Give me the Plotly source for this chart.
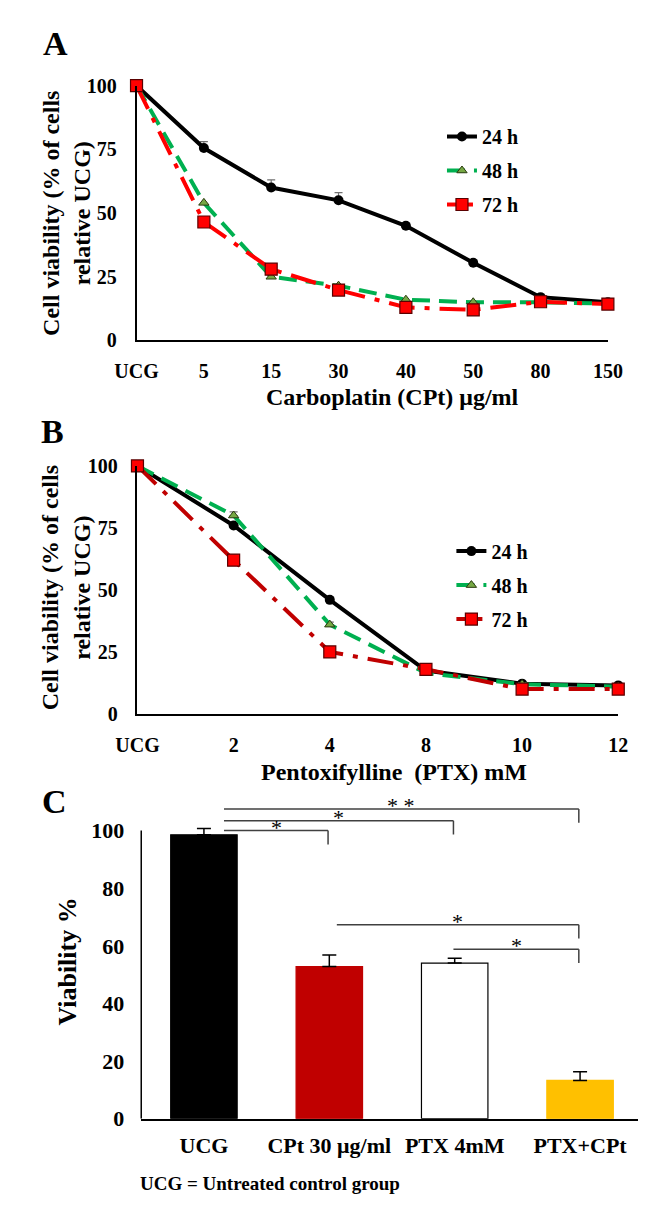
import plotly.graph_objects as go

# ---------------- data ----------------
a_categories = ["UCG", "5", "15", "30", "40", "50", "80", "150"]
a_24h = [100, 75.5, 60, 55, 45, 30.5, 17, 15]
a_24h_err = [0, 2.5, 3, 3, 1, 1, 1, 1]
a_48h = [100, 54, 25, 21.5, 16, 15, 15, 14.5]
a_72h = [100, 46.5, 28, 19.8, 13, 12, 15.2, 14.3]

b_categories = ["UCG", "2", "4", "8", "10", "12"]
b_24h = [100, 76, 46, 17.5, 12.2, 11.5]
b_24h_err = [0, 1, 1, 0.5, 0.5, 0.5]
b_48h = [100, 80, 36, 16.5, 12, 11]
b_48h_err = [0, 1.5, 1, 0.5, 0.5, 0.5]
b_72h = [100, 62, 25, 18, 10, 10]
b_72h_err = [0, 2, 1, 0.5, 0.5, 0.5]

c_categories = ["UCG", "CPt 30 μg/ml", "PTX 4mM", "PTX+CPt"]
c_values = [98.5, 52.8, 54, 13.3]
c_errors = [2.2, 4, 1.7, 3]
c_comparisons = [(0, 1, "*"), (0, 2, "*"), (0, 3, "* *"), (1, 3, "*"), (2, 3, "*")]

series_names = ["24 h", "48 h", "72 h"]

# ---------------- styling ----------------
W, H = 646, 1208
FONT = "Liberation Serif, Times New Roman, serif"


def px_x(px):
    return px / W


def px_y(py):
    return 1 - py / H


black = "#000000"
green = "#00B050"
tri_fill = "#76A844"
red_a = "#FF0000"
red_b = "#C00000"
green_dash = "18px,9px"
red_dash = "26px,10px,5px,10px"

fig = go.Figure()


def err(arr):
    if arr is None:
        return None
    return dict(type="data", array=arr, symmetric=False, arrayminus=[0] * len(arr),
                color="#707070", thickness=1.2, width=4)


def add_line_panel(xax, yax, legend, cats, s24, e24, s48, e48, s72, e72, red_line):
    fig.add_trace(go.Scatter(
        x=cats, y=s24, name=series_names[0], xaxis=xax, yaxis=yax, legend=legend,
        legendgroup=legend + "a", mode="lines+markers", cliponaxis=False,
        line=dict(color=black, width=4),
        marker=dict(symbol="circle", size=10, color=black),
        error_y=err(e24),
    ))
    fig.add_trace(go.Scatter(
        x=cats, y=s48, name=series_names[1], xaxis=xax, yaxis=yax, legend=legend,
        legendgroup=legend + "b", mode="lines+markers", cliponaxis=False,
        line=dict(color=green, width=4, dash=green_dash),
        marker=dict(symbol="triangle-up", size=9, color=tri_fill,
                    line=dict(color="#2a3a10", width=1)),
        error_y=err(e48),
    ))
    fig.add_trace(go.Scatter(
        x=cats, y=s72, name=series_names[2], xaxis=xax, yaxis=yax, legend=legend,
        legendgroup=legend + "c", mode="lines+markers", cliponaxis=False,
        line=dict(color=red_line, width=4, dash=red_dash),
        marker=dict(symbol="square", size=12, color="#FF0000",
                    line=dict(color="#5a0000", width=1.2)),
        error_y=err(e72),
    ))


add_line_panel("x", "y", "legend", a_categories, a_24h, a_24h_err, a_48h, None, a_72h, None, red_a)
add_line_panel("x2", "y2", "legend2", b_categories, b_24h, b_24h_err, b_48h, b_48h_err, b_72h, b_72h_err, red_b)

# Panel C bars
fig.add_trace(go.Bar(
    x=c_categories, y=c_values, xaxis="x3", yaxis="y3", showlegend=False, width=0.53,
    marker=dict(color=["#000000", "#C00000", "#FFFFFF", "#FFC000"],
                line=dict(color=["#000000", "#C00000", "#000000", "#FFC000"], width=1.2)),
    error_y=dict(type="data", array=c_errors, symmetric=False, arrayminus=[0] * 4,
                 color="#000000", thickness=1.5, width=7),
))

tick_font = dict(family=FONT, size=20, color="black", weight="bold")
tick_font_c = dict(family=FONT, size=22, color="black", weight="bold")
axis_common = dict(showgrid=False, zeroline=False, showline=True, linecolor="#000000",
                   linewidth=1.5, ticks="")

fig.update_layout(
    width=W, height=H, margin=dict(l=0, r=0, t=0, b=0),
    paper_bgcolor="white", plot_bgcolor="white",
    font=dict(family=FONT, color="black"),
    xaxis=dict(domain=[px_x(113), px_x(613)], anchor="y", type="category",
               categoryorder="array", categoryarray=a_categories, range=[0, 7],
               ticklabelstandoff=12, tickfont=tick_font, **axis_common),
    yaxis=dict(domain=[px_y(328), px_y(68)], anchor="x", range=[0, 100],
               tickvals=[0, 25, 50, 75, 100], ticklabelstandoff=14, tickfont=tick_font,
               **axis_common),
    xaxis2=dict(domain=[px_x(114), px_x(624)], anchor="y2", type="category",
                categoryorder="array", categoryarray=b_categories, range=[0, 5],
                ticklabelstandoff=12, tickfont=tick_font, **axis_common),
    yaxis2=dict(domain=[px_y(709), px_y(456)], anchor="x2", range=[0, 100],
                tickvals=[0, 25, 50, 75, 100], ticklabelstandoff=14, tickfont=tick_font,
                **axis_common),
    xaxis3=dict(domain=[px_x(118), 1.0], anchor="y3", type="category",
                categoryorder="array", categoryarray=c_categories, range=[-0.5, 3.47],
                ticklabelstandoff=6, tickfont=tick_font_c, **axis_common),
    yaxis3=dict(domain=[px_y(1122), px_y(798.6)], anchor="x3", range=[0, 110],
                tickvals=[0, 20, 40, 60, 80, 100], ticklabelstandoff=16,
                tickfont=tick_font_c, **{**axis_common, "showline": False}),
    legend=dict(x=px_x(437), y=px_y(100), xanchor="left", yanchor="top",
                font=dict(family=FONT, size=20, weight="bold"), tracegroupgap=5,
                bgcolor="rgba(0,0,0,0)", itemwidth=30),
    legend2=dict(x=px_x(447), y=px_y(523), xanchor="left", yanchor="top",
                 font=dict(family=FONT, size=20, weight="bold"), tracegroupgap=5,
                 bgcolor="rgba(0,0,0,0)", itemwidth=30),
)

# y-axis line of panel C (only up to 100)
shapes = [dict(type="line", xref="paper", yref="y3", x0=px_x(118), x1=px_x(118),
               y0=0, y1=100, line=dict(color="#000000", width=1.5))]

# significance brackets
bracket_levels = [100, 103.4, 107.5, 67.3, 58.8]
bracket_starts = [0.16, 0.16, 0.16, 1.06, 1.99]
drop = 4.8
annotations = []
for (i, j, label), lvl, xs in zip(c_comparisons, bracket_levels, bracket_starts):
    xe = j - 0.01
    shapes.append(dict(type="line", xref="x3", yref="y3", x0=xs, x1=xe, y0=lvl, y1=lvl,
                       line=dict(color="#404040", width=1.5)))
    shapes.append(dict(type="line", xref="x3", yref="y3", x0=xe, x1=xe, y0=lvl, y1=lvl - drop,
                       line=dict(color="#404040", width=1.5)))
    annotations.append(dict(xref="x3", yref="y3", x=(xs + xe) / 2, y=lvl, text=label,
                            showarrow=False, yanchor="bottom", yshift=-11,
                            font=dict(family=FONT, size=22, color="black")))

fig.update_layout(shapes=shapes)


def txt(x, y, text, size, angle=0, xanchor="center"):
    annotations.append(dict(xref="paper", yref="paper", x=px_x(x), y=px_y(y), text=text,
                            showarrow=False, textangle=angle, xanchor=xanchor, yanchor="middle",
                            font=dict(family=FONT, size=size, color="black", weight="bold")))


txt(27, 25, "A", 34)
txt(24, 421, "B", 34)
txt(26, 798, "C", 34)
txt(38, 198, "Cell viability (% of cells<br>relative UCG)", 24, angle=-90)
txt(38, 580, "Cell viability (% of cells<br>relative UCG)", 24, angle=-90)
txt(385, 386, "Carboplatin (CPt) μg/ml", 24)
txt(386, 768, "Pentoxifylline\u00a0 (PTX) mM", 24)
txt(40, 962, "Viability %", 26, angle=-90)
txt(115, 1188, "UCG = Untreated control group", 19, xanchor="left")

fig.update_layout(annotations=annotations)

fig.write_html("out.html")
